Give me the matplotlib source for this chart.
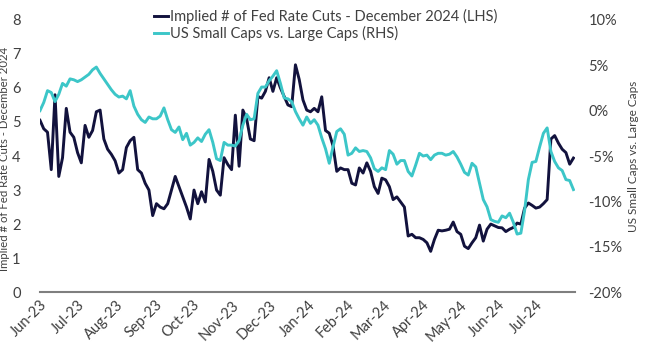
import matplotlib
matplotlib.use("Agg")
import matplotlib.pyplot as plt
import matplotlib.dates as mdates
from matplotlib.ticker import FuncFormatter, MultipleLocator
import pandas as pd

# observations every 3 days, 1 Jun 2023 - 31 Jul 2024
dates = pd.date_range("2023-06-01", periods=143, freq="3D")

# implied number of Fed cuts by Dec 2024 (LHS)
fed_cuts = [
    5.05, 4.8, 4.7, 3.6, 5.8, 3.4, 3.95, 5.4, 4.7, 4.55,
    4.1, 3.8, 4.9, 4.55, 4.75, 5.3, 5.35, 4.5, 4.2, 4.05,
    3.86, 3.5, 3.6, 4.25, 4.45, 4.55, 3.6, 3.5, 3.2, 3.0,
    2.25, 2.6, 2.5, 2.45, 2.6, 3.0, 3.4, 3.1, 2.8, 2.5,
    2.15, 3.0, 2.6, 2.95, 2.65, 3.9, 3.55, 3.0, 2.85, 3.95,
    3.75, 3.6, 5.2, 3.7, 5.35, 5.1, 4.5, 4.45, 5.75, 5.7,
    5.9, 6.3, 5.9, 6.3, 6.0, 5.75, 5.5, 5.45, 6.68, 6.25,
    5.65, 5.35, 5.3, 5.4, 5.3, 5.74, 4.75, 4.67, 4.3, 3.55,
    3.65, 3.6, 3.6, 3.2, 3.15, 3.65, 3.5, 3.8, 3.55, 3.1,
    2.9, 3.35, 3.3, 3.1, 2.72, 2.8, 2.65, 2.5, 1.65, 1.7,
    1.6, 1.6, 1.55, 1.45, 1.2, 1.55, 1.82, 1.8, 1.82, 1.85,
    2.06, 1.78, 1.7, 1.35, 1.28, 1.45, 1.6, 1.97, 1.5, 1.85,
    2.0, 1.95, 1.9, 1.89, 1.78, 1.85, 1.9, 2.03, 2.0, 2.47,
    2.62, 2.55, 2.47, 2.5, 2.6, 2.72, 4.5, 4.6, 4.38, 4.2,
    4.1, 3.76, 3.94,
]

# US small caps vs large caps, % (RHS)
small_vs_large = [
    0.0, 0.9, 2.2, 2.0, 1.0, 1.8, 3.0, 2.7, 3.5, 3.4,
    3.2, 3.4, 3.7, 4.0, 4.5, 4.8, 4.1, 3.5, 2.9, 2.3,
    1.8, 1.5, 1.6, 1.3, 2.2, 0.5, -0.4, -1.0, -1.3, -0.7,
    -0.9, -0.9, -0.6, 0.3, -1.0, -2.1, -2.4, -1.8, -3.2, -2.5,
    -3.8, -3.5, -3.0, -3.4, -2.6, -2.1, -3.5, -5.3, -5.5, -3.5,
    -3.8, -3.8, -3.9, -3.3, -1.6, -0.4, -1.0, -0.9, 1.9, 2.6,
    2.6, 3.3, 3.8, 4.4, 3.0, 1.4, 1.3, 1.0, -0.1, -0.9,
    -1.6, -0.7, -1.4, -1.0, -1.6, -3.0, -4.2, -5.8, -4.0, -2.3,
    -2.0, -2.6, -4.9, -4.7, -4.1, -4.5, -4.4, -4.5, -5.2, -6.4,
    -6.7, -6.3, -6.5, -4.4, -4.8, -5.9, -5.5, -5.5, -6.7, -7.2,
    -6.0, -4.7, -5.0, -4.9, -5.4, -4.9, -4.7, -4.7, -4.9, -4.8,
    -4.5, -5.1, -5.9, -6.8, -7.1, -5.8, -6.2, -8.0, -9.8, -10.6,
    -12.0, -12.2, -12.3, -11.6, -11.8, -11.3, -12.3, -13.6, -13.5, -11.0,
    -7.6, -5.7, -5.6, -4.0, -2.5, -1.9, -4.5, -5.6, -6.3, -6.6,
    -7.6, -7.7, -8.7,
]

navy = "#12123d"
teal = "#3cc6c8"
txt = "#404040"

plt.rcParams["font.family"] = ["Lato", "DejaVu Sans"]

fig = plt.figure(figsize=(6.45, 3.55), dpi=100)
ax = fig.add_axes([0.062, 0.177, 0.829, 0.767])
ax2 = ax.twinx()

l1, = ax.plot(dates, fed_cuts, color=navy, lw=2.1,
              label="Implied # of Fed Rate Cuts - December 2024 (LHS)")
l2, = ax2.plot(dates, small_vs_large, color=teal, lw=2.1,
               label="US Small Caps vs. Large Caps (RHS)")

ax.set_xlim(pd.Timestamp("2023-06-01"), pd.Timestamp("2024-08-01"))
ax.set_ylim(0, 8)
ax2.set_ylim(-20, 10)
ax.yaxis.set_major_locator(MultipleLocator(1))
ax2.yaxis.set_major_locator(MultipleLocator(5))
ax2.yaxis.set_major_formatter(FuncFormatter(lambda v, p: f"{v:.0f}%"))

ax.set_xticks(pd.date_range("2023-06-01", "2024-07-01", freq="MS"))
ax.xaxis.set_major_formatter(mdates.DateFormatter("%b-%y"))
for lab in ax.get_xticklabels():
    lab.set_rotation(45)
    lab.set_ha("right")
    lab.set_rotation_mode("anchor")

for a in (ax, ax2):
    for s in ("top", "left", "right", "bottom"):
        a.spines[s].set_visible(False)
    a.tick_params(length=0, colors=txt, labelsize=10.5)
ax.spines["bottom"].set_visible(True)
ax.spines["bottom"].set_color("#7f7f7f")
ax.spines["bottom"].set_linewidth(1.5)
ax.tick_params(axis="y", pad=14)
ax2.tick_params(axis="y", pad=10)
ax.tick_params(axis="x", pad=4)

ax.set_ylabel("Implied # of Fed Rate Cuts - December 2024", fontsize=8.2, color=txt)
ax.yaxis.set_label_coords(-0.056, 0.49)
ax2.set_ylabel("US Small Caps vs. Large Caps", fontsize=8.5, color=txt, labelpad=4)

fig.legend(handles=[l1, l2], loc="upper left", bbox_to_anchor=(0.225, 1.0),
           frameon=False, fontsize=10.5, handlelength=1.0, handletextpad=0.1,
           labelspacing=0.15, borderaxespad=0.2, labelcolor=txt)

fig.savefig("out.png", dpi=100)
